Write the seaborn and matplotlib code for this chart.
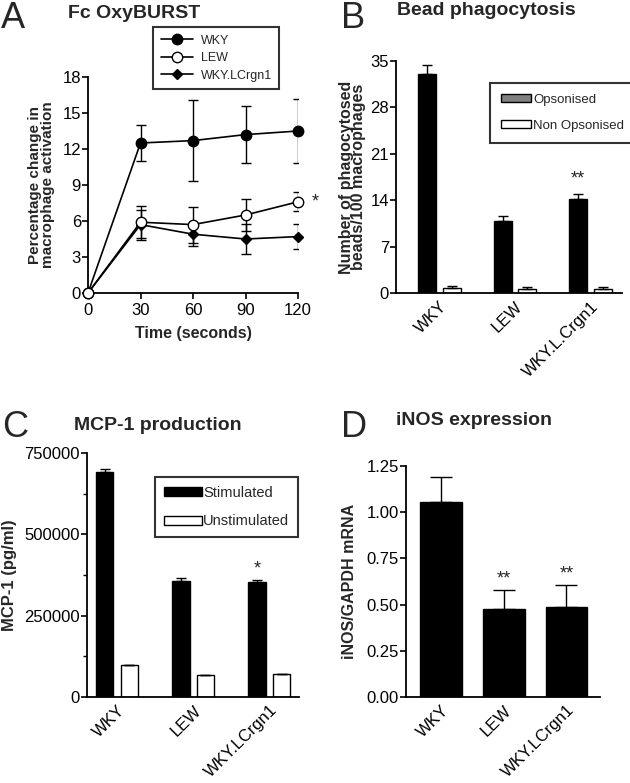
import numpy as np
import pandas as pd
import matplotlib
matplotlib.use("Agg")
import matplotlib.pyplot as plt
import seaborn as sns
from matplotlib.patches import Patch
from matplotlib.ticker import MultipleLocator, FormatStrFormatter

sns.set_theme(style="ticks")
plt.rcParams['font.family'] = ['Liberation Sans', 'DejaVu Sans']

# --- data ---
# A: Fc OxyBURST
time_s = [0, 30, 60, 90, 120]
wky_act = [0, 12.5, 12.7, 13.2, 13.5]
wky_act_err = [0, 1.5, 3.4, 2.35, 2.7]
lew_act = [0, 5.9, 5.7, 6.5, 7.6]
lew_act_err = [0, 1.35, 1.5, 1.3, 0.8]
cong_act = [0, 5.7, 4.9, 4.5, 4.7]
cong_act_err = [0, 1.25, 0.95, 1.25, 1.05]

# B: bead phagocytosis
bead_strains = ['WKY', 'LEW', 'WKY.L.Crgn1']
opsonised = [33.0, 10.8, 14.2]
opsonised_err = [1.35, 0.75, 0.75]
non_opsonised = [0.8, 0.6, 0.6]
non_opsonised_err = [0.25, 0.25, 0.3]

# C: MCP-1 production
strains = ['WKY', 'LEW', 'WKY.LCrgn1']
mcp_stim = [692000, 358000, 354000]
mcp_stim_err = [8000, 7000, 6000]
mcp_unstim = [98000, 67000, 70000]
mcp_unstim_err = [1500, 1500, 1500]

# D: iNOS expression
inos = [1.055, 0.475, 0.485]
inos_err = [0.135, 0.105, 0.12]

W, H = 630, 783
TICK_FS = 12


def box(l, t, r, b):
    return [l / W, 1 - b / H, (r - l) / W, (b - t) / H]


def style_axes(ax):
    sns.despine(ax=ax)
    for s in ['left', 'bottom']:
        ax.spines[s].set_linewidth(1.3)
        ax.spines[s].set_color('black')
    ax.tick_params(direction='out', length=4, width=1.2, colors='black',
                   labelsize=TICK_FS, pad=1)
    ax.set_facecolor('white')


def boxed_legend(leg):
    leg.get_frame().set_edgecolor('black')
    leg.get_frame().set_linewidth(1.5)


def grouped_bars(ax, cats, a, a_err, b, b_err, names, width, gap):
    df = pd.DataFrame({'strain': cats * 2,
                       'group': [names[0]] * len(cats) + [names[1]] * len(cats),
                       'value': a + b})
    sns.barplot(data=df, x='strain', y='value', hue='group',
                palette=['black', 'white'], saturation=1, edgecolor='black',
                linewidth=1, width=width, gap=gap, errorbar=None,
                legend=False, ax=ax)
    for cont, errs in zip(ax.containers, [a_err, b_err]):
        for bar, e in zip(cont, errs):
            x = bar.get_x() + bar.get_width() / 2
            ax.errorbar(x, bar.get_height(), yerr=[[0], [e]], fmt='none',
                        ecolor='black', elinewidth=1, capsize=3.5,
                        capthick=1, zorder=1)


def rotate_xticks(ax):
    ax.set_xlabel('')
    ax.tick_params(axis='x', length=0, pad=4)
    plt.setp(ax.get_xticklabels(), rotation=45, ha='right',
             rotation_mode='anchor')


fig = plt.figure(figsize=(6.3, 7.83), dpi=100)
fig.patch.set_facecolor('white')

# ---------- A ----------
axA = fig.add_axes(box(88, 77, 298, 293))
series = [
    ('WKY.LCrgn1', cong_act, cong_act_err, 'D', 5, 'black'),
    ('WKY', wky_act, wky_act_err, 'o', 7.5, 'black'),
    ('LEW', lew_act, lew_act_err, 'o', 7.5, 'white'),
]
for name, vals, errs, mk, ms, fc in series:
    axA.errorbar(time_s, vals, yerr=errs, fmt='none', ecolor='black',
                 elinewidth=1, capsize=3.5, capthick=1, zorder=2)
    sns.lineplot(x=time_s, y=vals, marker=mk, markersize=ms, color='black',
                 markerfacecolor=fc, markeredgecolor='black',
                 markeredgewidth=1, linewidth=1.2, label=name, ax=axA,
                 clip_on=False, zorder=3)
axA.set_xlim(0, 120)
axA.set_ylim(0, 18)
axA.set_xticks(time_s)
axA.set_yticks(range(0, 19, 3))
style_axes(axA)
axA.tick_params(axis='x', pad=3)
axA.set_xlabel('Time (seconds)', fontsize=11.5, fontweight='bold', labelpad=6)
axA.set_ylabel('Percentage change in\nmacrophage activation', fontsize=11,
               fontweight='bold', linespacing=0.95, labelpad=5)
axA.text(120 + 8, lew_act[-1], '*', fontsize=13, ha='left', va='center')
handles, labels = axA.get_legend_handles_labels()
order = [labels.index(n) for n in ['WKY', 'LEW', 'WKY.LCrgn1']]
legA = axA.legend([handles[i] for i in order], [labels[i] for i in order],
                  loc='upper left', bbox_to_anchor=(153 / W, 1 - 27 / H),
                  bbox_transform=fig.transFigure, borderaxespad=0,
                  fontsize=9, frameon=True, fancybox=False,
                  handlelength=2.6, labelspacing=0.45, borderpad=0.6,
                  handletextpad=0.6)
boxed_legend(legA)

# ---------- B ----------
axB = fig.add_axes(box(396, 61, 622, 293))
grouped_bars(axB, bead_strains, opsonised, opsonised_err,
             non_opsonised, non_opsonised_err,
             ['Opsonised', 'Non Opsonised'], width=0.66, gap=0.28)
axB.set_xlim(-0.576, 2.417)
axB.set_ylim(0, 35)
axB.set_yticks(range(0, 36, 7))
style_axes(axB)
axB.set_ylabel('Number of phagocytosed\nbeads/100 macrophages', fontsize=11.5,
               fontweight='bold', linespacing=0.8, labelpad=3)
rotate_xticks(axB)
top = axB.containers[0][2]
axB.text(top.get_x() + top.get_width() / 2,
         opsonised[2] + opsonised_err[2] + 1.0, '**', fontsize=13,
         ha='center', va='bottom')
legB = axB.legend(handles=[Patch(facecolor='#808080', edgecolor='black'),
                           Patch(facecolor='white', edgecolor='black')],
                  labels=['Opsonised', 'Non Opsonised'], loc='upper left',
                  bbox_to_anchor=(490 / W, 1 - 83 / H),
                  bbox_transform=fig.transFigure, borderaxespad=0,
                  fontsize=9.5, fancybox=False, handlelength=2.3,
                  handleheight=0.55, handletextpad=0.15, labelspacing=1.1,
                  borderpad=0.8)
boxed_legend(legB)

# ---------- C ----------
axC = fig.add_axes(box(87, 453, 299, 697))
grouped_bars(axC, strains, mcp_stim, mcp_stim_err, mcp_unstim,
             mcp_unstim_err, ['Stimulated', 'Unstimulated'],
             width=0.645, gap=0.3)
axC.set_xlim(-0.395, 2.39)
axC.set_ylim(0, 750000)
axC.set_yticks([0, 250000, 500000, 750000])
axC.yaxis.set_minor_locator(MultipleLocator(125000))
style_axes(axC)
axC.tick_params(axis='y', which='minor', direction='out', length=3,
                width=1, color='black')
axC.set_ylabel('MCP-1 (pg/ml)', fontsize=12, fontweight='bold', labelpad=5)
rotate_xticks(axC)
top = axC.containers[0][2]
axC.text(top.get_x() + top.get_width() / 2,
         mcp_stim[2] + mcp_stim_err[2] + 6000, '*', fontsize=13,
         ha='center', va='bottom')
legC = axC.legend(handles=[Patch(facecolor='black', edgecolor='black'),
                           Patch(facecolor='white', edgecolor='black')],
                  labels=['Stimulated', 'Unstimulated'], loc='upper left',
                  bbox_to_anchor=(155 / W, 1 - 477 / H),
                  bbox_transform=fig.transFigure, borderaxespad=0,
                  fontsize=10.5, fancybox=False, handlelength=2.6,
                  handleheight=0.55, handletextpad=0.1, labelspacing=1.0,
                  borderpad=0.6)
boxed_legend(legC)

# ---------- D ----------
axD = fig.add_axes(box(406, 466, 600, 697))
sns.barplot(x=strains, y=inos, color='black', saturation=1,
            edgecolor='black', width=0.667, errorbar=None, ax=axD)
for bar, e in zip(axD.containers[0], inos_err):
    x = bar.get_x() + bar.get_width() / 2
    axD.errorbar(x, bar.get_height(), yerr=[[0], [e]], fmt='none',
                 ecolor='black', elinewidth=1, capsize=8, capthick=1,
                 zorder=1)
for i in [1, 2]:
    bar = axD.containers[0][i]
    axD.text(bar.get_x() + bar.get_width() / 2,
             inos[i] + inos_err[i] + 0.015, '**', fontsize=13,
             ha='center', va='bottom')
axD.set_xlim(-0.558, 2.534)
axD.set_ylim(0, 1.25)
axD.set_yticks(np.arange(0, 1.26, 0.25))
axD.yaxis.set_major_formatter(FormatStrFormatter('%.2f'))
style_axes(axD)
axD.set_ylabel('iNOS/GAPDH mRNA', fontsize=11.5, fontweight='bold',
               labelpad=7)
rotate_xticks(axD)

# ---------- titles and panel letters ----------
for letter, lx, ly, title, tx, ty in [
        ('A', 1, 28, 'Fc OxyBURST', 68, 18),
        ('B', 341, 28, 'Bead phagocytosis', 397, 15),
        ('C', 2, 437, 'MCP-1 production', 74, 430),
        ('D', 341, 437, 'iNOS expression', 396, 425)]:
    fig.text(lx / W, 1 - ly / H, letter, fontsize=26, ha='left',
             va='baseline')
    fig.text(tx / W, 1 - ty / H, title, fontsize=14, fontweight='bold',
             ha='left', va='baseline')

fig.savefig('out.png', dpi=100, facecolor='white')
